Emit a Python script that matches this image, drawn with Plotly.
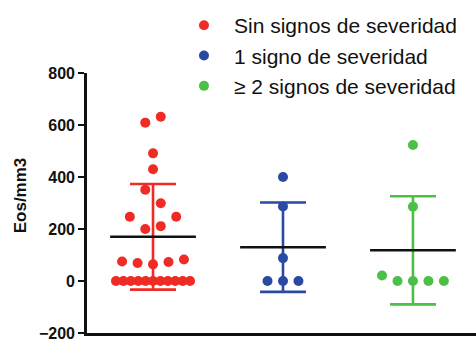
import plotly.graph_objects as go

# Eosinophil counts per group (cells/mm3)
groups = ["Sin signos de severidad", "1 signo de severidad", "\u2265 2 signos de severidad"]
sin_signos = [609, 632, 491, 430, 351, 299, 247, 200, 211, 247,
              75, 69, 64, 73, 83, 0, 0, 0, 0, 0, 0, 0, 0, 0, 0, 0]
un_signo = [400, 287, 88, 0, 0, 0]
dos_signos = [523, 286, 21, 0, 0, 0, 0]

# Group summaries (mean and standard deviation)
means = [170, 130, 118]
sds = [203, 172, 208]

colors = ["#ee2c25", "#2a49a3", "#4cbf47"]
y_ticks = [-200, 0, 200, 400, 600, 800]
y_title = "Eos/mm3"

series = [sin_signos, un_signo, dos_signos]

ROW_TOL = 55        # values closer than this share one row of the swarm
STEP = 0.119        # horizontal step between neighbouring dots
MAX_SPAN = 0.57     # widest a row may spread


def swarm_offsets(values):
    """Place dots of similar value side by side, centred on the group."""
    order = sorted(range(len(values)), key=lambda i: -values[i])
    rows, current, start = [], [], None
    for i in order:
        if current and start - values[i] > ROW_TOL:
            rows.append(current)
            current = []
        if not current:
            start = values[i]
        current.append(i)
    if current:
        rows.append(current)
    offs = [0.0] * len(values)
    for row in rows:
        row = sorted(row)
        n = len(row)
        step = STEP if n < 2 else min(STEP, MAX_SPAN / (n - 1))
        for k, i in enumerate(row):
            offs[i] = (k - (n - 1) / 2) * step
    return offs


fig = go.Figure()

for g, (name, vals, col) in enumerate(zip(groups, series, colors)):
    offs = swarm_offsets(vals)
    fig.add_trace(go.Scatter(
        x=[g + o for o in offs], y=vals, mode="markers", name=name,
        marker=dict(color=col, size=10, line=dict(width=0)),
    ))

for g, (m, s, col) in enumerate(zip(means, sds, colors)):
    # standard deviation whiskers
    fig.add_trace(go.Scatter(
        x=[g], y=[m], mode="markers", showlegend=False,
        marker=dict(size=1, color="rgba(0,0,0,0)"),
        error_y=dict(type="data", array=[s], visible=True,
                     color=col, thickness=2.6, width=23),
    ))
    # mean line
    fig.add_trace(go.Scatter(
        x=[g - 0.33, g + 0.33], y=[m, m], mode="lines", showlegend=False,
        line=dict(color="#111111", width=2.6),
    ))

fig.add_annotation(
    text=y_title, xref="paper", yref="paper", x=-0.172, y=0.53,
    textangle=-90, showarrow=False, xanchor="center", yanchor="middle",
    font=dict(size=17, weight="bold", color="#111111"),
)

fig.update_layout(
    width=476, height=341,
    margin=dict(l=87, r=0, t=73, b=8, autoexpand=False),
    paper_bgcolor="white", plot_bgcolor="white",
    font=dict(family="Liberation Sans, Arial, sans-serif", color="#111111"),
    showlegend=True,
    legend=dict(
        xref="container", yref="container", x=0.3655, y=0.985,
        xanchor="left", yanchor="top",
        font=dict(size=21, color="#111111"),
        tracegroupgap=0, itemwidth=50,
        bgcolor="rgba(0,0,0,0)",
    ),
    xaxis=dict(
        range=[-0.508, 2.485], showgrid=False, zeroline=False,
        showticklabels=False, ticks="",
        showline=True, linecolor="#111111", linewidth=2.6,
    ),
    yaxis=dict(
        range=[-200, 800], tickvals=y_ticks, showgrid=False, zeroline=False,
        showline=True, linecolor="#111111", linewidth=2.6,
        ticks="outside", ticklen=6, tickwidth=2, tickcolor="#111111",
        ticklabeloverflow="allow",
        tickfont=dict(size=16, family="Liberation Sans, Arial, sans-serif",
                      weight="bold"),
    ),
)

fig.write_html("out.html")
